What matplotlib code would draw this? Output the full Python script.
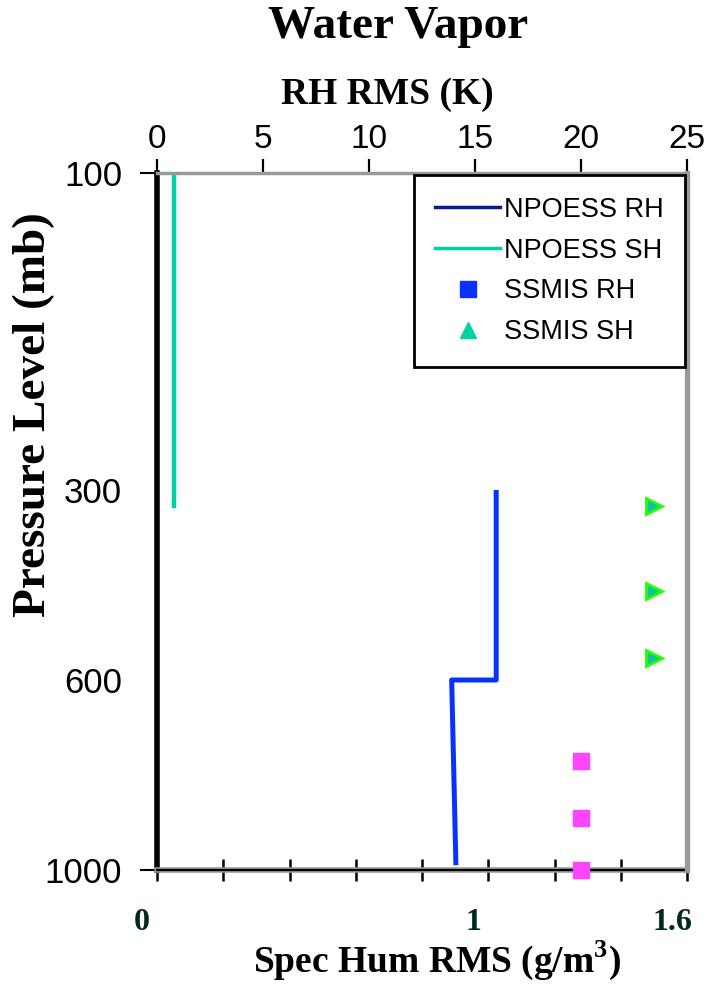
import numpy as np
import matplotlib
matplotlib.use('Agg')
import matplotlib.pyplot as plt
import matplotlib.transforms as mtransforms
from matplotlib.lines import Line2D

plt.rcParams['mathtext.fontset'] = 'custom'
plt.rcParams['mathtext.rm'] = 'Liberation Serif:bold'
plt.rcParams['mathtext.bf'] = 'Liberation Serif:bold'

SERIF = 'Liberation Serif'
SANS = 'Liberation Sans'

# pressure levels shown on the y axis and their spacing along it
p_ticks = [100, 300, 600, 1000]
p_spacing = [0, 317, 507, 697]

# NPOESS requirement profiles
npoess_rh_x = [16.0, 16.0, 13.9, 14.1]      # K
npoess_rh_p = [300, 600, 600, 990]
npoess_sh_x = [0.05, 0.05]                  # g/m3
npoess_sh_p = [100, 325]

# SSMIS values
ssmis_rh_x = [20.0, 20.0, 20.0]
ssmis_rh_p = [770, 890, 1000]
ssmis_sh_x = [1.5, 1.5, 1.5]
ssmis_sh_p = [325, 460, 565]

rh_ticks = [0, 5, 10, 15, 20, 25]
sh_ticks = np.arange(0, 1.61, 0.2)
sh_labels = [(0, '0'), (1, '1'), (1.6, '1.6')]


def fwd(p):
    return np.interp(p, p_ticks, p_spacing)


def inv(y):
    return np.interp(y, p_spacing, p_ticks)


fig = plt.figure(figsize=(7.09, 9.84), dpi=100)
ax = fig.add_axes([157/709, 1-870/984, 530/709, 697/984])
ax.set_yscale('function', functions=(fwd, inv))
ax.set_ylim(1000, 100)
ax.set_xlim(0, 1.6)

ax2 = ax.twiny()
ax2.set_xlim(0, 25)

# lines and markers
ax2.plot(npoess_rh_x, npoess_rh_p, color='#0a32ff', lw=3.6, solid_capstyle='butt', zorder=3)
ax.plot(npoess_sh_x, npoess_sh_p, color='#00d2a8', lw=3.2, zorder=3)
ax2.plot(ssmis_rh_x, ssmis_rh_p, ls='none', marker='s', ms=12, mfc='#ff44ff', mec='#ff44ff', zorder=4, clip_on=False)
ax.plot(ssmis_sh_x, ssmis_sh_p, ls='none', marker='>', ms=12, mfc='#10c0a0', mec='#22ff00', mew=2, zorder=4)

# spines
for s in ['top', 'right']:
    ax.spines[s].set_visible(False)
for s in ['left', 'bottom']:
    ax2.spines[s].set_visible(False)
ax.spines['left'].set_color('black')
ax.spines['left'].set_linewidth(4)
ax.spines['bottom'].set_color('#999999')
ax.spines['bottom'].set_linewidth(4)
ax2.spines['top'].set_color('#999999')
ax2.spines['top'].set_linewidth(2.5)
ax2.spines['right'].set_color('#999999')
ax2.spines['right'].set_linewidth(3.8)
ax.axhline(1000, color='black', lw=1.6, zorder=5, clip_on=False)
ax.axhline(100, color='black', lw=1.2, zorder=5, clip_on=False)

# y axis
ax.set_yticks(p_ticks)
ax.set_yticklabels([str(p) for p in p_ticks], fontfamily=SANS, fontsize=25)
ax.yaxis.set_minor_locator(matplotlib.ticker.NullLocator())
ax.tick_params(axis='y', direction='out', length=12, width=1.5, pad=13)
for i, t in enumerate(ax.yaxis.get_major_ticks()):
    if p_ticks[i] in (300, 600):
        t.tick1line.set_visible(False)

# bottom axis: specific humidity
ax.set_xticks(sh_ticks)
ax.set_xticklabels([])
ax.tick_params(axis='x', direction='inout', length=16, width=1.8, color='black')
trans = mtransforms.offset_copy(ax.get_xaxis_transform(), fig=fig, x=-15, y=0, units='dots')
for v, s in sh_labels:
    ax.text(v, -52/697, s, transform=trans, ha='center', va='center',
            fontfamily=SERIF, fontweight='bold', fontsize=23, color='#022a1c')

# top axis: relative humidity
ax2.set_xticks(rh_ticks)
ax2.set_xticklabels([str(v) for v in rh_ticks], fontfamily=SANS, fontsize=24)
ax2.tick_params(axis='x', direction='out', length=10, width=1.6, pad=3)

# legend
handles = [
    Line2D([], [], color='#0a1a8a', lw=2.5),
    Line2D([], [], color='#00d2a8', lw=2.5),
    Line2D([], [], ls='none', marker='s', ms=12, color='#0a32ff'),
    Line2D([], [], ls='none', marker='^', ms=12, color='#00d2a8'),
]
labels = ['NPOESS RH', 'NPOESS SH', 'SSMIS RH', 'SSMIS SH']
leg = ax2.legend(handles, labels, loc='upper right',
                 bbox_to_anchor=(685/709, 1-175/984), bbox_transform=fig.transFigure,
                 borderaxespad=0, prop={'family': SANS, 'size': 19.5},
                 handlelength=2.4, handletextpad=0.12, labelspacing=0.55,
                 fancybox=False, framealpha=1, edgecolor='black', borderpad=0.8)
leg.get_frame().set_linewidth(2)
leg.set_zorder(6)

# titles and axis labels
fig.text(398/709, 1-27/984, 'Water Vapor', ha='center', va='center',
         fontfamily=SERIF, fontweight='bold', fontsize=34)
fig.text(387/709, 1-95/984, 'RH RMS (K)', ha='center', va='center',
         fontfamily=SERIF, fontweight='bold', fontsize=27)
fig.text(437/709, 1-960/984, 'Spec Hum RMS (g/m$^{3}$)', ha='center', va='center',
         fontfamily=SERIF, fontweight='bold', fontsize=27)
fig.text(34/709, 1-415/984, 'Pressure Level (mb)', ha='center', va='center', rotation=90,
         fontfamily=SERIF, fontweight='bold', fontsize=34)

fig.savefig('out.png', dpi=100)
